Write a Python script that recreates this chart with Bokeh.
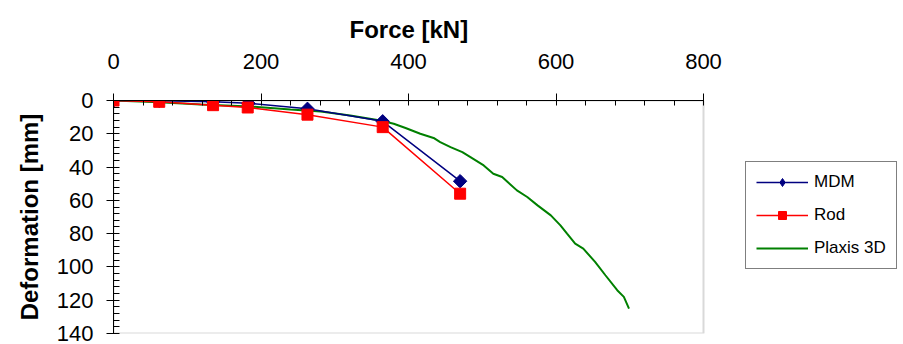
from bokeh.plotting import figure
from bokeh.models import Range1d, FixedTicker, Legend, LegendItem, BoxAnnotation
from bokeh.embed import file_html
from bokeh.resources import INLINE

# Data
mdm_force = [0, 62, 135, 183, 263, 365, 470]
mdm_def = [0, 0.2, 0.8, 1.7, 5, 12.5, 48.5]

rod_force = [0, 62, 135, 182, 263, 365, 470]
rod_def = [0, 0.8, 2.8, 4.2, 8.5, 16, 56]

plaxis_force = [0, 62, 118, 186, 240, 281, 321, 362, 380, 396, 416, 434, 443, 457,
                473, 484, 502, 515, 527, 547, 561, 575, 593, 606, 615, 626, 637,
                653, 667, 683, 692, 699]
plaxis_def = [0, 1, 2.4, 3.6, 5.4, 6.6, 9, 12, 14, 16.5, 20, 22.5, 25, 28,
              31, 34, 39, 44, 46, 54, 58, 63, 69, 75, 80, 86, 89,
              97, 105, 114, 118, 125]

x_ticks = [0, 200, 400, 600, 800]
y_ticks = [0, 20, 40, 60, 80, 100, 120, 140]
x_max, y_max = 800, 140

FONT = "Liberation Sans"

# layout: plot area 590 px wide for 0..800; frame extends to the right to hold the legend
W, H, LEFT, TOP, BOTTOM = 900, 344, 113, 100, 11
PLOT_PX = 590
x_end = x_max * (W - LEFT) / PLOT_PX

p = figure(width=W, height=H,
           x_range=Range1d(0, x_end), y_range=Range1d(y_max, 0),
           x_axis_location="above", y_axis_location="left",
           output_backend="svg", toolbar_location=None,
           min_border_left=LEFT, min_border_top=TOP,
           min_border_right=0, min_border_bottom=BOTTOM,
           background_fill_color="white", border_fill_color="white",
           title="Force [kN]")

p.grid.visible = False
p.outline_line_color = None

# x-axis title, centred over the 0..800 plot area
p.title.align = "left"
p.title.offset = 236
p.title.text_font = FONT
p.title.text_font_style = "bold"
p.title.text_font_size = "24px"
p.title.text_color = "black"
p.title.standoff = 16

p.add_layout(BoxAnnotation(left=0, right=x_max, top=0, bottom=y_max,
                           fill_alpha=0, line_color="#808080", line_width=2,
                           level="underlay"))

xa = p.xaxis[0]
xa.bounds = (0, x_max)
xa.ticker = FixedTicker(ticks=x_ticks, minor_ticks=list(range(0, x_max + 1, 40)))
xa.major_label_text_font = FONT
xa.major_label_text_font_size = "22px"
xa.major_label_text_color = "black"
xa.major_label_standoff = 25
xa.major_tick_out = 7
xa.major_tick_in = 4
xa.minor_tick_in = 5
xa.minor_tick_out = 0
xa.axis_line_color = "black"
xa.major_tick_line_color = "black"
xa.minor_tick_line_color = "black"

ya = p.yaxis[0]
ya.ticker = FixedTicker(ticks=y_ticks, minor_ticks=list(range(0, y_max + 1, 4)))
ya.axis_label = "Deformation [mm]"
ya.axis_label_text_font = FONT
ya.axis_label_text_font_style = "bold"
ya.axis_label_text_font_size = "24px"
ya.axis_label_text_color = "black"
ya.axis_label_standoff = 11
ya.major_label_text_font = FONT
ya.major_label_text_font_size = "22px"
ya.major_label_text_color = "black"
ya.major_label_standoff = 13
ya.major_tick_out = 7
ya.major_tick_in = 2
ya.minor_tick_in = 6
ya.minor_tick_out = 0
ya.axis_line_color = "black"
ya.major_tick_line_color = "black"
ya.minor_tick_line_color = "black"

g = p.line(plaxis_force, plaxis_def, line_color="#008000", line_width=2)

l1 = p.line(mdm_force, mdm_def, line_color="#000080", line_width=1.5)
s1 = p.scatter(mdm_force, mdm_def, marker="square", angle=0.7853981634, size=9.5,
               fill_color="#000080", line_color="#000080")

l2 = p.line(rod_force, rod_def, line_color="#FF0000", line_width=1.5)
s2 = p.scatter(rod_force, rod_def, marker="square", size=11,
               fill_color="#FF0000", line_color="#FF0000")

# legend-only diamond (legend glyphs ignore the marker angle); hidden in the plot
d1 = p.scatter(mdm_force, mdm_def, marker="diamond", size=15,
               fill_color="#000080", line_color="#000080", visible=False)

legend = Legend(items=[
    LegendItem(label="MDM", renderers=[l1, d1]),
    LegendItem(label="Rod", renderers=[l2, s2]),
    LegendItem(label="Plaxis 3D", renderers=[g]),
], location=(632, 64))
legend.label_text_font = FONT
legend.label_text_font_size = "17px"
legend.label_text_color = "black"
legend.label_height = 20
legend.glyph_height = 20
legend.glyph_width = 52
legend.label_standoff = 6
legend.spacing = 13
legend.padding = 10
legend.margin = 0
legend.border_line_color = "black"
legend.border_line_width = 1
legend.background_fill_color = "white"
legend.background_fill_alpha = 1
p.add_layout(legend)

open("out.html", "w").write(file_html(p, INLINE))
